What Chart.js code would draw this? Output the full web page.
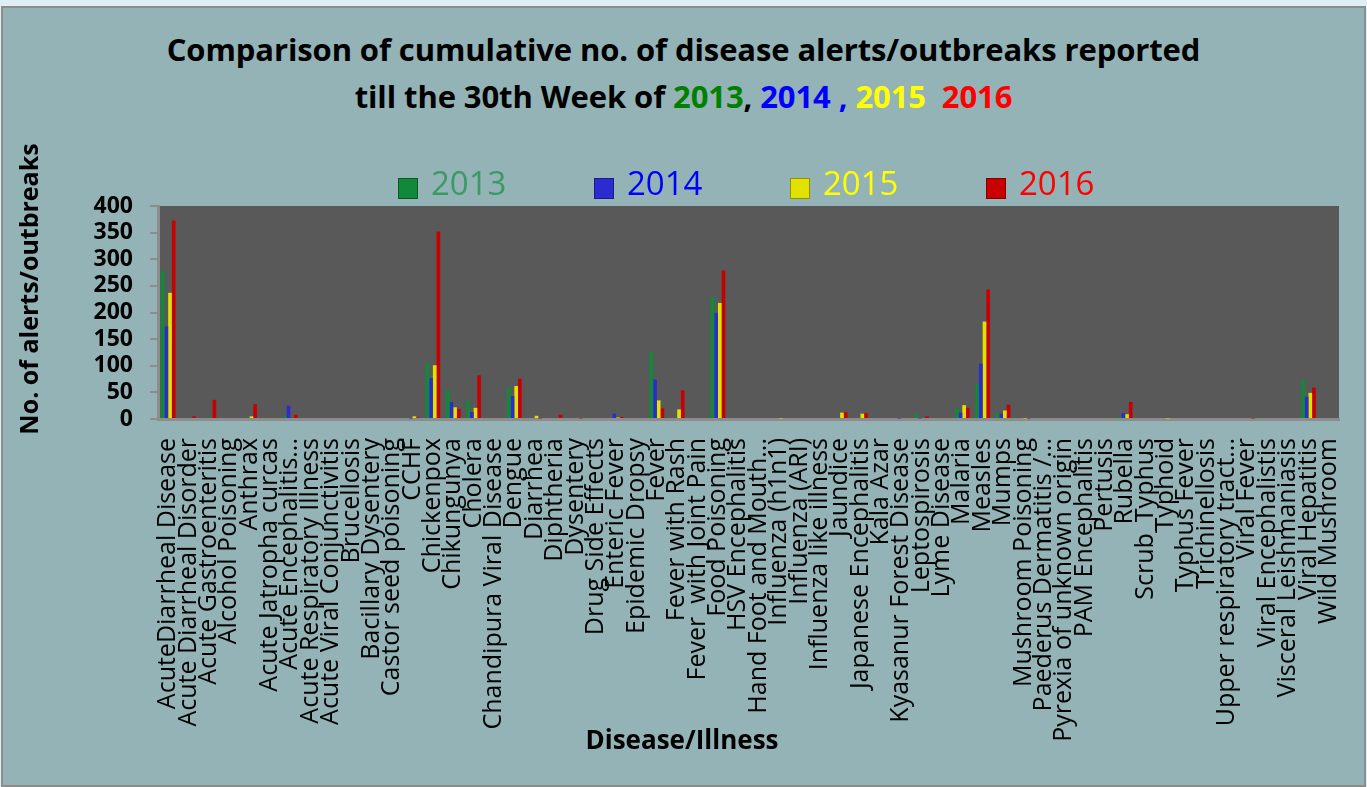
<!DOCTYPE html>
<html>
<head>
<meta charset="utf-8">
<script src="https://cdn.jsdelivr.net/npm/chart.js@4.4.1/dist/chart.umd.min.js"></script>
<style>
  html, body { margin: 0; padding: 0; background: #deeef4; }
  body { width: 1367px; height: 787px; position: relative; overflow: hidden; }
  #frame { position: absolute; left: 1px; top: 6px; width: 1361px; height: 777px;
           background: #93b3b6; border: 2px solid #8c8c8c; }
  #title { position: absolute; left: 0; top: 26px; width: 1367px; text-align: center;
           font: bold 31px 'Open Sans', sans-serif; line-height: 47px; color: #000;
           letter-spacing: -0.1px; }
  #chart { position: absolute; left: 0; top: 0; }
</style>
</head>
<body>
<div id="frame"></div>
<div id="title">
  Comparison of cumulative no. of disease alerts/outbreaks reported<br>
  till the 30th Week of <span style="color:#008000">2013</span>, <span style="color:#0000ff">2014 ,</span> <span style="color:#ffff00">2015</span>&nbsp; <span style="color:#ff0000">2016</span>
</div>
<canvas id="chart" width="1367" height="787"></canvas>
<script>
// --- data ---
const diseases = [
  "AcuteDiarrheal Disease", "Acute Diarrheal Disorder", "Acute Gastroenteritis", "Alcohol Poisoning",
  "Anthrax", "Acute Jatropha curcas", "Acute Encephalitis...", "Acute Respiratory Illness",
  "Acute Viral Conjunctivitis", "Brucellosis", "Bacillary Dysentery", "Castor seed poisoning",
  "CCHF", "Chickenpox", "Chikungunya", "Cholera", "Chandipura Viral Disease", "Dengue",
  "Diarrhea", "Diphtheria", "Dysentery", "Drug Side Effects", "Enteric Fever", "Epidemic Dropsy",
  "Fever", "Fever with Rash", "Fever  with Joint Pain", "Food Poisoning", "HSV Encephalitis",
  "Hand Foot and Mouth...", "Influenza (h1n1)", "Influenza (ARI)", "Influenza like illness",
  "Jaundice", "Japanese Encephalitis", "Kala Azar", "Kyasanur Forest Disease", "Leptospirosis",
  "Lyme Disease", "Malaria", "Measles", "Mumps", "Mushroom Poisoning", "Paederus Dermatitis /...",
  "Pyrexia of unknown origin", "PAM Encephalitis", "Pertusis", "Rubella", "Scrub_Typhus",
  "Typhoid", "Typhus Fever", "Trichinellosis", "Upper respiratory tract...", "Viral Fever",
  "Viral Encephalistis", "Visceral Leishmaniasis", "Viral Hepatitis", "Wild Mushroom"
];

const years = ["2013", "2014", "2015", "2016"];

const y2013 = [278,0,0,0, 2,0,5,0, 0,0,0,0, 0,105,54,35, 0,59,0,0, 0,0,0,0, 125,0,0,229, 0,0,0,0,
               0,0,0,0, 0,10,0,20, 65,11,0,0, 0,0,0,5, 0,0,0,0, 0,0,0,0, 74,0];
const y2014 = [174,0,0,0, 2,0,25,0, 0,0,0,0, 1,77,32,13, 0,43,0,2, 0,0,10,0, 74,0,0,199, 0,0,0,0,
               0,0,0,0, 1,1,0,12, 104,10,0,0, 0,0,0,11, 0,0,0,0, 0,0,0,0, 42,0];
const y2015 = [237,0,0,0, 5,0,0,0, 0,0,0,0, 5,101,22,21, 0,62,6,0, 2,0,3,0, 35,18,0,218, 0,0,1,0,
               0,12,10,0, 0,0,0,26, 183,16,1,0, 0,0,0,9, 0,1,0,0, 0,0,0,0, 49,0];
const y2016 = [373,5,36,0, 28,0,8,0, 0,0,0,0, 3,352,19,82, 0,76,1,8, 1,0,4,0, 20,54,0,279, 0,0,0,0,
               0,13,11,0, 0,5,0,21, 243,27,1,0, 0,0,0,32, 0,0,0,0, 0,1,0,0, 59,0];

const yTicks = [0, 50, 100, 150, 200, 250, 300, 350, 400];

const barColors  = ["#12883a", "#2b2bd0", "#e2e200", "#c80000"];
const textColors = ["#3a9a64", "#0000ff", "#ffff00", "#ff0000"];

const AXIS = "#8c8c8c";

// legend and axis titles, drawn on top of the chart
const deco = {
  id: "deco",
  afterDraw(chart) {
    const ctx = chart.ctx;
    ctx.save();
    ctx.textBaseline = "middle";
    chart.data.datasets.forEach((ds, i) => {
      const x = 398 + i * 196, y = 188;
      ctx.fillStyle = ds.backgroundColor;
      ctx.fillRect(x, y - 10, 20, 21);
      ctx.strokeStyle = "rgba(0,0,0,0.35)";
      ctx.lineWidth = 1;
      ctx.strokeRect(x + 0.5, y - 9.5, 19, 20);
      ctx.fillStyle = textColors[i];
      ctx.font = "33px 'Open Sans'";
      ctx.textAlign = "left";
      ctx.fillText(ds.label, x + 33, y - 2);
    });
    ctx.fillStyle = "#000";
    ctx.textAlign = "center";
    ctx.font = "bold 26px 'Open Sans'";
    ctx.fillText("Disease/Illness", 682, 742);
    ctx.translate(31, 289);
    ctx.rotate(-Math.PI / 2);
    ctx.font = "bold 25px 'Open Sans'";
    ctx.fillText("No. of alerts/outbreaks", 0, 0);
    ctx.restore();
  }
};

const plotBg = {
  id: "plotBg",
  beforeDraw(chart) {
    const a = chart.chartArea, ctx = chart.ctx;
    ctx.save();
    ctx.fillStyle = "#595959";
    ctx.fillRect(a.left, a.top, a.right - a.left, a.bottom - a.top);
    ctx.restore();
  }
};

const series = [y2013, y2014, y2015, y2016];

new Chart(document.getElementById("chart"), {
  type: "bar",
  data: {
    labels: diseases,
    datasets: years.map((yr, i) => ({
      label: yr,
      data: series[i],
      backgroundColor: barColors[i],
      borderWidth: 0,
      categoryPercentage: 0.72,
      barPercentage: 1.0
    }))
  },
  options: {
    responsive: false,
    animation: false,
    layout: { autoPadding: false, padding: { top: 206, right: 28, left: 0, bottom: 0 } },
    plugins: { legend: { display: false }, tooltip: { enabled: false }, title: { display: false } },
    scales: {
      x: {
        grid: { display: true, drawOnChartArea: false, drawTicks: false, color: AXIS },
        border: { display: true, color: AXIS, width: 3 },
        ticks: {
          autoSkip: false, maxRotation: 90, minRotation: 90, padding: 19,
          color: "#000", font: { family: "'Open Sans'", size: 25 }
        },
        afterFit(s) { s.height = 368; s.paddingLeft = 0; s.paddingRight = 0; }
      },
      y: {
        min: 0, max: 400,
        afterBuildTicks(s) { s.ticks = yTicks.map(v => ({ value: v })); },
        grid: { display: true, drawOnChartArea: false, drawTicks: true, tickLength: 8, color: AXIS, lineWidth: 2 },
        border: { display: true, color: AXIS, width: 3 },
        ticks: {
          autoSkip: false, padding: 17, color: "#000",
          font: { family: "'Open Sans'", size: 23, weight: "bold" }
        },
        afterFit(s) { s.width = 158; s.paddingTop = 0; s.paddingBottom = 0; }
      }
    }
  },
  plugins: [plotBg, deco]
});
</script>
</body>
</html>
